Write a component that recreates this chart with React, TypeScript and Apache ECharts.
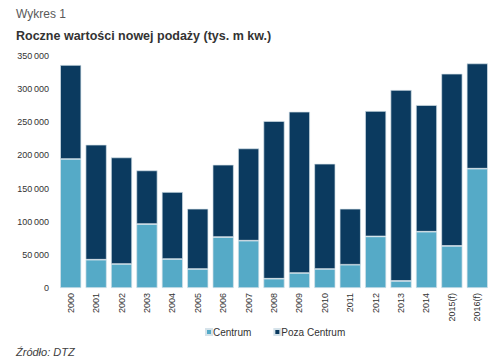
import React, { useEffect, useRef } from "react";
import * as echarts from "echarts";

const categories = ["2000","2001","2002","2003","2004","2005","2006","2007","2008","2009","2010","2011","2012","2013","2014","2015(f)","2016(f)"];
const totals = [336400,216200,197000,177400,144800,119600,186000,210600,251900,266000,187500,119600,267000,298700,276000,323300,338800];
const centrum = [194600,42700,36200,96500,43700,28700,76900,71400,14000,22600,28700,35100,77800,10600,84900,63400,180000];
const pozaCentrum = totals.map((t, i) => t - centrum[i]);
const yTicks = { min: 0, max: 350000, interval: 50000 };

const FONT = "'Liberation Sans', Arial, sans-serif";

export default function App() {
  const ref = useRef<HTMLDivElement>(null);
  useEffect(() => {
    const chart = echarts.init(ref.current!, null, { renderer: "svg" });
    chart.setOption({
      animation: false,
      backgroundColor: "#ffffff",
      textStyle: { fontFamily: FONT },
      title: [
        { text: "Wykres 1", left: 11, top: 3, textStyle: { fontFamily: FONT, fontSize: 12, fontWeight: "normal", color: "#595959" } },
        { text: "Roczne wartości nowej podaży (tys. m kw.)", left: 11, top: 24, textStyle: { fontFamily: FONT, fontSize: 12.5, fontWeight: "bold", color: "#333333" } },
        { text: "Źródło: DTZ", left: 11, top: 341, textStyle: { fontFamily: FONT, fontSize: 11, fontWeight: "normal", fontStyle: "italic", color: "#404040" } },
      ],
      legend: {
        data: ["Centrum", "Poza Centrum"],
        top: 322,
        left: 200,
        icon: "rect",
        itemWidth: 6,
        itemHeight: 6,
        itemGap: 22,
        textStyle: { fontFamily: FONT, fontSize: 10, color: "#333333", padding: [0, 0, 0, -4] },
      },
      grid: { left: 58, right: 10, top: 56, bottom: 71, containLabel: false },
      xAxis: {
        type: "category",
        data: categories,
        axisLine: { show: false },
        axisTick: { show: false },
        axisLabel: { rotate: 90, fontSize: 9, color: "#333333", margin: 5, interval: 0, fontFamily: FONT },
      },
      yAxis: {
        type: "value",
        min: yTicks.min,
        max: yTicks.max,
        interval: yTicks.interval,
        splitLine: { show: false },
        axisLine: { show: false },
        axisTick: { show: false },
        axisLabel: {
          fontSize: 9,
          color: "#333333",
          margin: 9,
          fontFamily: FONT,
          formatter: (v: number) => String(v).replace(/\B(?=(\d{3})+(?!\d))/g, "\u2009"),
        },
      },
      series: [
        {
          name: "Centrum",
          type: "bar",
          stack: "total",
          data: centrum,
          barCategoryGap: "17%",
          itemStyle: { color: "#55aac7", borderColor: "#d6e3ea", borderWidth: 0.7 },
        },
        {
          name: "Poza Centrum",
          type: "bar",
          stack: "total",
          data: pozaCentrum,
          barCategoryGap: "17%",
          itemStyle: { color: "#0b3a5f", borderColor: "#d6e3ea", borderWidth: 0.7 },
        },
      ],
    });
    return () => chart.dispose();
  }, []);
  return <div ref={ref} style={{ width: 500, height: 359, position: "absolute", left: 0, top: 0 }} />;
}
